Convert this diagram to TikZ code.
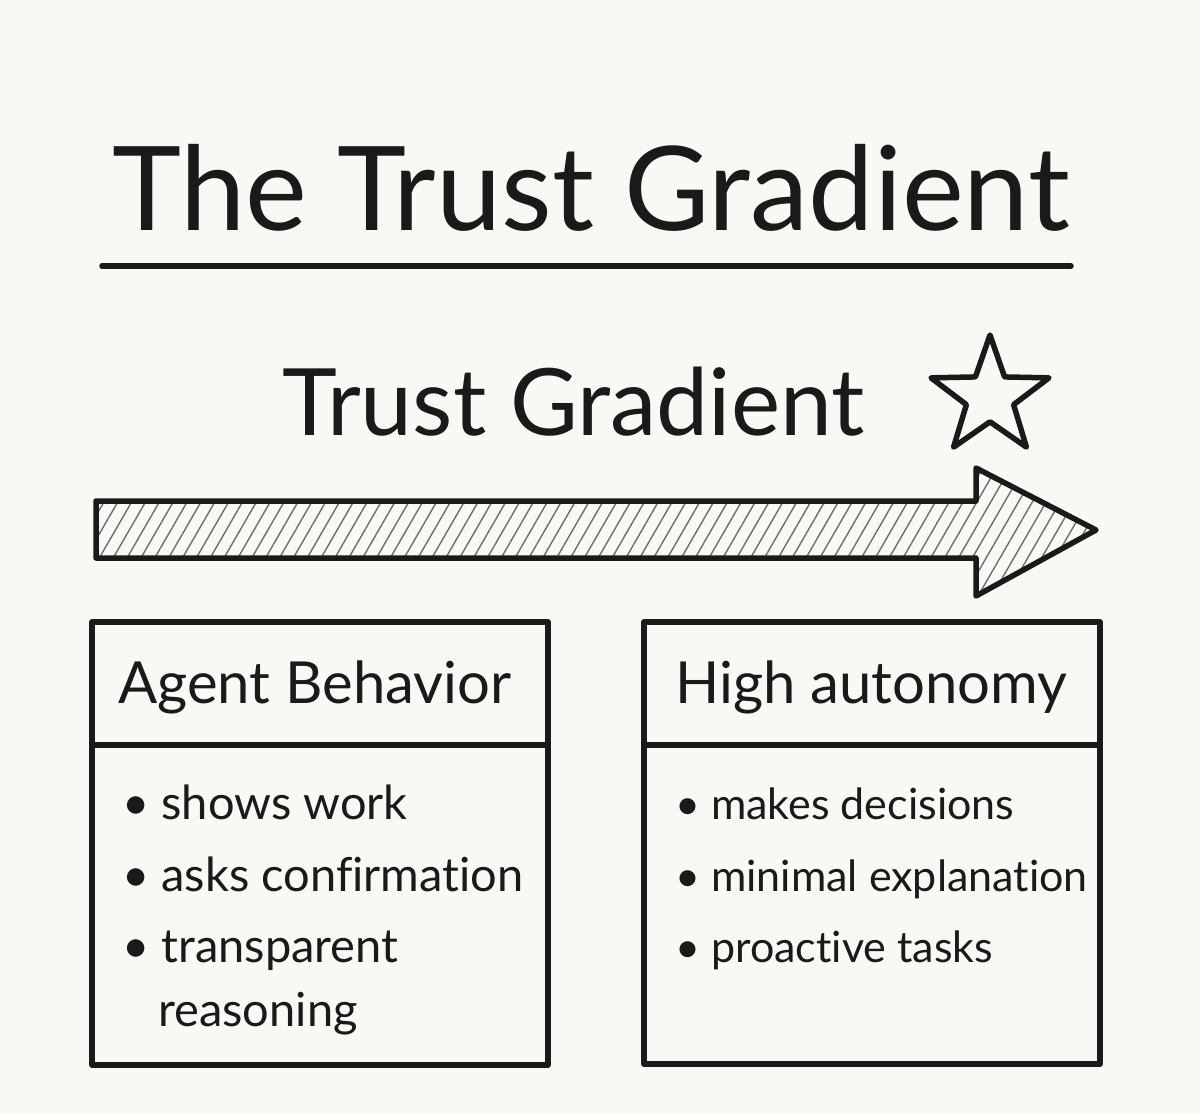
\documentclass[tikz,border=0pt]{standalone}
\usepackage{fontspec}
\setmainfont{Lato}[Ligatures=NoCommon]
\usetikzlibrary{shapes.geometric,patterns.meta}
\definecolor{paper}{HTML}{F9F8F4}
\definecolor{ink}{HTML}{1A1A1A}
\definecolor{hatch}{HTML}{6E6E6E}
\tikzset{
  inkline/.style={draw=ink,line width=5.5pt,line join=round,line cap=round},
  headtext/.style={anchor=base west,inner sep=0pt,text=ink,font=\fontsize{58}{64}\selectfont},
  itemtext/.style={anchor=base west,inner sep=0pt,text=ink,font=\fontsize{47}{52}\selectfont},
  itemnarrow/.style={itemtext,font=\fontsize{43}{48}\selectfont}
}
\begin{document}
\begin{tikzpicture}[x=1pt,y=-1pt]
            \fill[paper] (0,0) rectangle (1200,1114);
            \useasboundingbox (0,0) rectangle (1200,1114);
            % title and rule
            \node[anchor=base west,inner sep=0pt,text=ink,font=\fontsize{117}{122}\selectfont](title) at (112,230) {The Trust Gradient};
            \coordinate (ruleL) at (102,266);
            \coordinate (ruleR) at (1071,266);
            \draw[inkline] (ruleL) -- (ruleR);
            % gradient label and star
            \node[anchor=base west,inner sep=0pt,text=ink,font=\fontsize{93}{98}\selectfont](sub) at (282,435) {Trust Gradient};
            \node[star,star points=5,minimum size=124pt,star point ratio=2.5,inner sep=0pt,inkline](star) at (990,397) {};
            % hatched arrow
            \draw[inkline,pattern={Lines[angle=60,distance=12pt,line width=1.4pt]},pattern color=hatch]
              (96,501) -- (976,501) -- (976,468) -- (1096,530) -- (976,596) -- (976,558) -- (96,558) -- cycle;
            % boxes
            \draw[inkline] (92,622) rectangle (548,1065);
            \draw[inkline] (92,745) -- (548,745);
            \draw[inkline] (644,622) rectangle (1100,1064);
            \draw[inkline] (644,745) -- (1100,745);
            \node[headtext](a) at (118,703) {Agent Behavior};
            \node[itemtext](a1) at (122,819) {• shows work};
            \node[itemtext](a2) at (122,891) {• asks confirmation};
            \node[itemtext](a3) at (122,962) {• transparent};
            \node[itemtext](a4) at (158,1026) {reasoning};
            \node[headtext](b) at (675,703) {High autonomy};
            \node[itemnarrow](b1) at (675,819) {• makes decisions};
            \node[itemnarrow](b2) at (675,891) {• minimal explanation};
            \node[itemnarrow](b3) at (675,962) {• proactive tasks};
\end{tikzpicture}
\end{document}
